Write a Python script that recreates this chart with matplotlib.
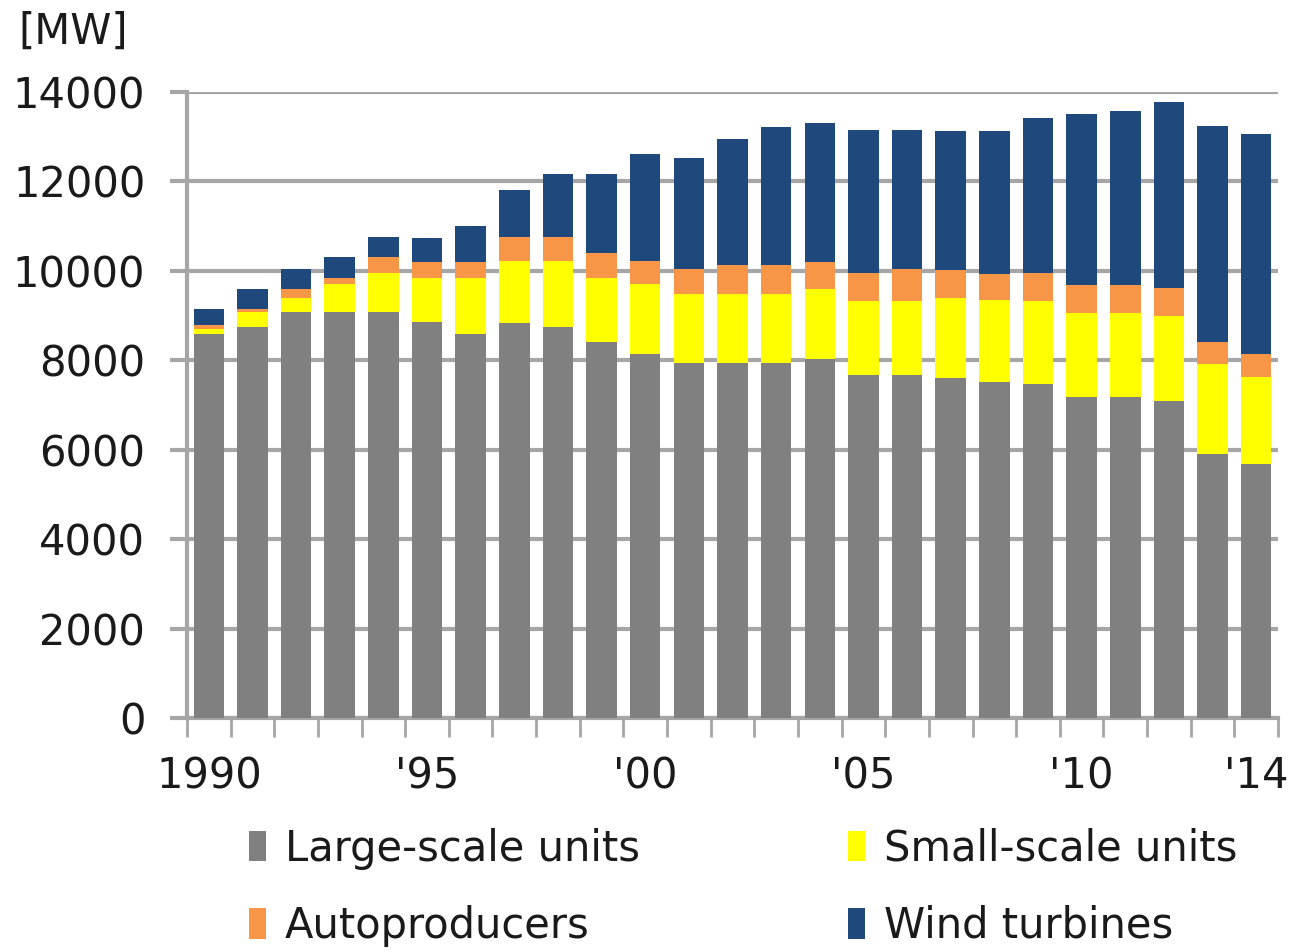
import matplotlib
matplotlib.use("Agg")
import matplotlib.pyplot as plt
from matplotlib.patches import Patch
import numpy as np

years = list(range(1990, 2015))
tick_years = [1990, 1995, 2000, 2005, 2010, 2014]
tick_labels = ["1990", "'95", "'00", "'05", "'10", "'14"]

large_scale = [8580, 8750, 9090, 9090, 9090, 8855, 8590, 8840, 8750, 8400,
               8130, 7950, 7950, 7950, 8035, 7670, 7670, 7610, 7520, 7460,
               7175, 7175, 7090, 5910, 5680]
small_scale = [120, 340, 310, 610, 860, 980, 1240, 1380, 1460, 1450,
               1570, 1540, 1540, 1540, 1550, 1660, 1660, 1790, 1820, 1870,
               1875, 1875, 1890, 2000, 1940]
autoproducers = [90, 50, 190, 150, 350, 370, 370, 540, 550, 560,
                 520, 560, 630, 630, 610, 630, 710, 620, 600, 620,
                 630, 630, 630, 510, 520]
wind = [350, 450, 450, 460, 460, 540, 800, 1050, 1400, 1750,
        2390, 2470, 2840, 3100, 3120, 3190, 3110, 3110, 3190, 3460,
        3820, 3900, 4170, 4810, 4910]

series = [
    ("Large-scale units", large_scale, "#808080"),
    ("Small-scale units", small_scale, "#FFFF00"),
    ("Autoproducers", autoproducers, "#F79646"),
    ("Wind turbines", wind, "#1F497D"),
]

plt.rcParams["font.family"] = ["DejaVu Sans"]
W, H = 1298, 952
fig = plt.figure(figsize=(W / 100, H / 100), dpi=100)
ax = fig.add_axes([187 / W, 1 - 718 / H, (1278 - 187) / W, (718 - 92) / H])

x = np.arange(len(years))
bottom = np.zeros(len(years))
for name, vals, color in series:
    vals = np.array(vals, dtype=float)
    ax.bar(x, vals, bottom=bottom, width=0.7, color=color, zorder=3)
    bottom += vals

grid_c = "#A6A6A6"
text_c = "#1a1a1a"
fs = 30
ax.set_xlim(-0.5, len(years) - 0.5)
ax.set_ylim(0, 14000)
ax.set_yticks(np.arange(0, 14001, 2000))
ax.yaxis.grid(True, color=grid_c, linewidth=3, zorder=0)
ax.tick_params(axis="y", length=12, width=3, color=grid_c, pad=18,
               labelsize=fs, labelcolor=text_c)

ax.set_xticks([years.index(y) for y in tick_years])
ax.set_xticklabels(tick_labels)
ax.set_xticks(np.arange(-0.5, len(years), 1.0), minor=True)
ax.tick_params(axis="x", which="major", length=0, pad=27, labelsize=fs,
               labelcolor=text_c)
ax.tick_params(axis="x", which="minor", length=14, width=2, color=grid_c)

for side in ("top", "right"):
    ax.spines[side].set_visible(False)
for side in ("left", "bottom"):
    ax.spines[side].set_color(grid_c)
    ax.spines[side].set_linewidth(3)

fig.text(18 / W, 1 - 32 / H, "[MW]", fontsize=fs, color=text_c,
         va="center", ha="left")

# two rows: Large / Small on top, Autoproducers / Wind below
order = [0, 2, 1, 3]
handles = [Patch(facecolor=series[i][2], edgecolor="none") for i in order]
labels = [series[i][0] for i in order]
fig.legend(handles, labels, loc="upper left", bbox_to_anchor=(212 / W, 1 - 790 / H),
           ncol=2, frameon=False, fontsize=fs, handlelength=0.4, handleheight=0.75,
           handletextpad=0.45, columnspacing=5.0, labelspacing=0.85,
           labelcolor=text_c)

fig.savefig("out.png", dpi=100, facecolor="white")
